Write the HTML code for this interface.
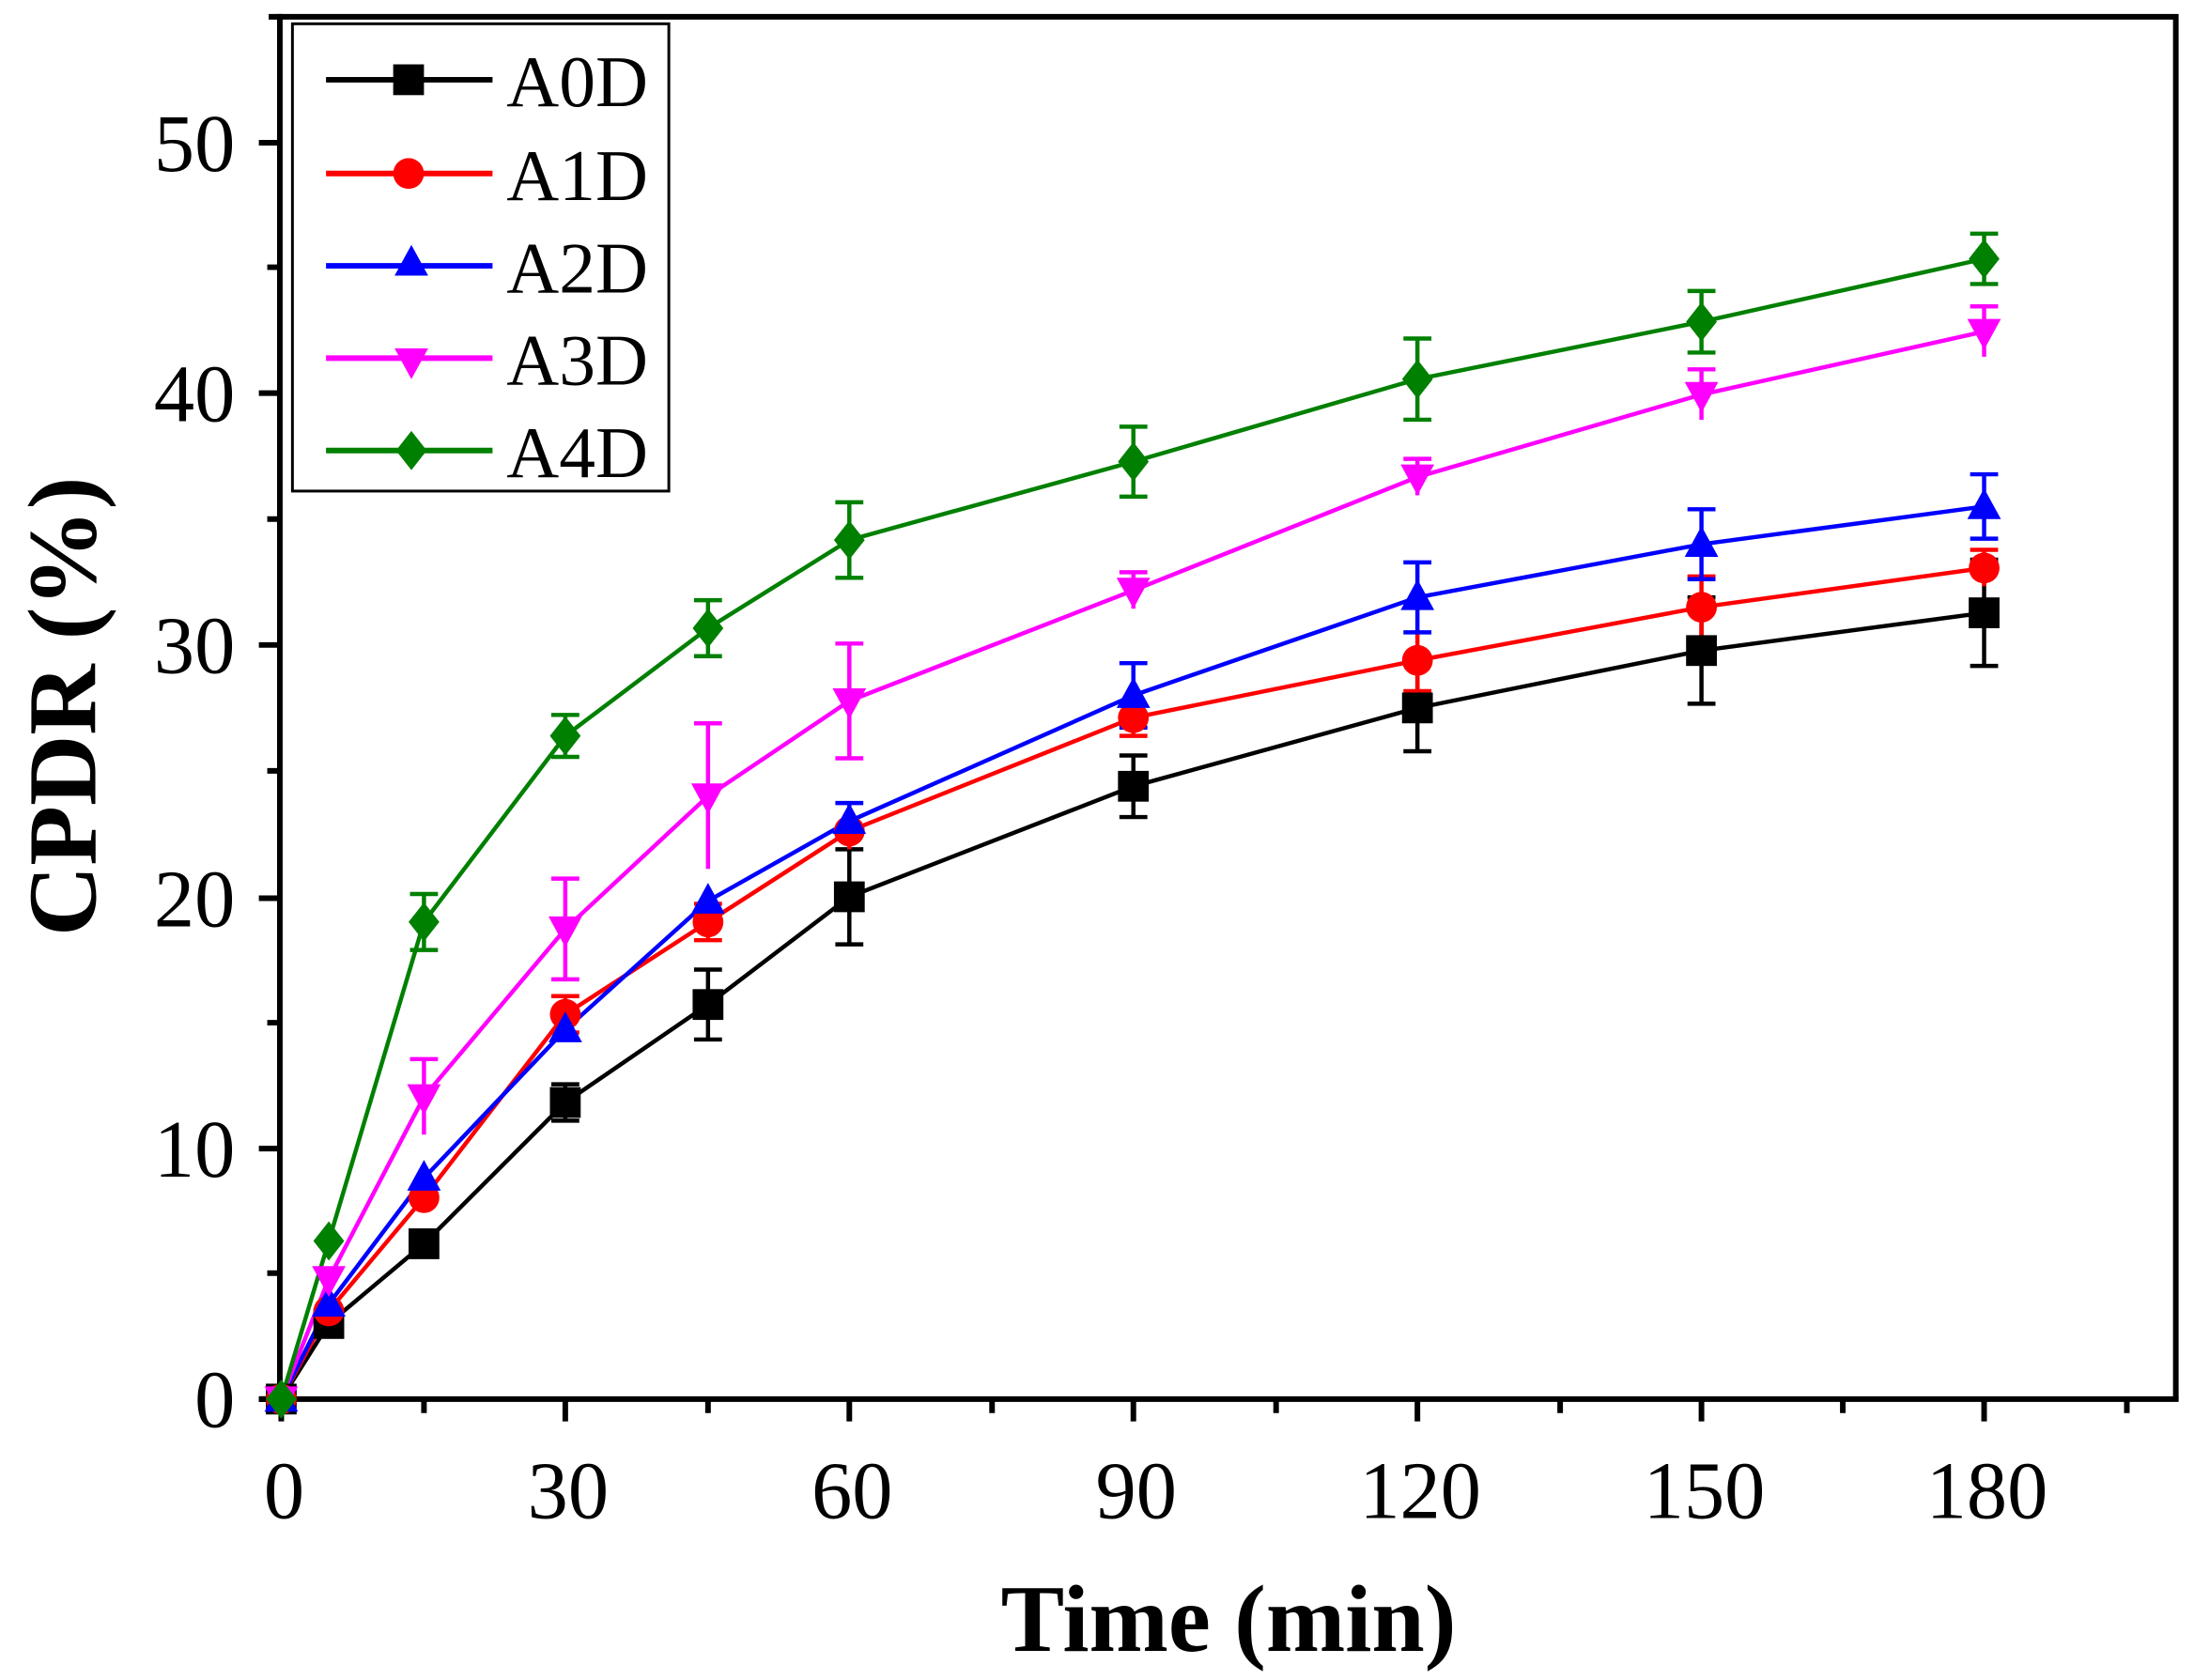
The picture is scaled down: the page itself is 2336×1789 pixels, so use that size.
<!DOCTYPE html>
<html><head><style>html,body{margin:0;padding:0;background:#fff}svg{display:block}</style></head>
<body>
<svg width="2336" height="1789" viewBox="0 0 1568 1200.8" preserveAspectRatio="none" xmlns="http://www.w3.org/2000/svg" font-family="Liberation Serif, serif">
<defs>
<rect id="sq" x="-11" y="-11" width="22" height="22"/>
<circle id="ci" r="11"/>
<polygon id="tu" points="0,-13 12,9 -12,9"/>
<polygon id="td" points="0,13 12,-9 -12,-9"/>
<polygon id="di" points="0,-14 11,0 0,14 -11,0"/>
</defs>
<rect width="1568" height="1201" fill="#fff"/>
<!-- frame -->
<g stroke="#000" stroke-width="4" fill="none">
<path d="M192,12 H1555 V1000"/>
<path d="M200,10 V1002 M185,1000 H1557"/>
<!-- y major ticks -->
<path d="M185,1000H200M185,821H200M185,642H200M185,461H200M185,281H200M185,102H200"/>
<path d="M191,910H200M191,731H200M191,551H200M191,371H200M191,191H200"/>
<!-- x ticks -->
<path d="M201,1000V1016M404,1000V1016M607,1000V1016M810,1000V1016M1013,1000V1016M1216,1000V1016M1418,1000V1016"/>
<path d="M303,1000V1010M506,1000V1010M709,1000V1010M912,1000V1010M1115,1000V1010M1317,1000V1010M1520,1000V1010"/>
</g>
<g font-size="58" text-anchor="end">
<text x="168" y="1020">0</text><text x="168" y="841">10</text><text x="168" y="662">20</text>
<text x="168" y="481">30</text><text x="168" y="301">40</text><text x="168" y="122">50</text>
</g>
<g font-size="58" text-anchor="middle">
<text x="203" y="1085">0</text><text x="406" y="1085">30</text><text x="609" y="1085">60</text>
<text x="812" y="1085">90</text><text x="1015" y="1085">120</text><text x="1218" y="1085">150</text><text x="1420" y="1085">180</text>
</g>
<text x="878" y="1180" font-size="68" font-weight="bold" text-anchor="middle">Time (min)</text>
<text transform="translate(68,505) rotate(-90)" font-size="70" font-weight="bold" text-anchor="middle">CPDR (%)</text>

<!-- series -->
<g fill="none" stroke-width="3">
<path stroke="#000" d="M201,1000L235,946L303,889L404,788L506,718L607,641L810,562L1013,506L1216,465L1418,438"/>
<path stroke="#000" d="M404,775V801M394,775H414M394,801H414M506,693V743M496,693H516M496,743H516M607,607V675M597,607H617M597,675H617M810,540V584M800,540H820M800,584H820M1013,475V537M1003,475H1023M1003,537H1023M1216,427V503M1206,427H1226M1206,503H1226M1418,400V476M1408,400H1428M1408,476H1428"/>
<path stroke="#f00" d="M201,1000L235,937L303,856L404,725L506,659L607,594L810,513L1013,472L1216,434L1418,406"/>
<path stroke="#f00" d="M404,712V738M394,712H414M394,738H414M506,646V672M496,646H516M496,672H516M607,581V607M810,500V526M800,526H820M1013,450V494M1003,494H1023M1216,412V456M1206,412H1226M1418,393V419M1408,393H1428"/>
<path stroke="#00f" d="M201,1000L235,932L303,842L404,736L506,644L607,587L810,497L1013,427L1216,389L1418,362"/>
<path stroke="#00f" d="M607,574V600M597,574H617M810,474V520M800,474H820M800,520H820M1013,402V452M1003,402H1023M1003,452H1023M1216,364V414M1206,364H1226M1206,414H1226M1418,339V385M1408,339H1428M1408,385H1428"/>
<path stroke="#f0f" d="M201,1000L235,914L303,784L404,664L506,569L607,501L810,422L1013,341L1216,282L1418,237"/>
<path stroke="#f0f" d="M303,757V811M293,757H313M404,628V700M394,628H414M394,700H414M506,517V621M496,517H516M607,460V542M597,460H617M597,542H617M810,409V435M800,409H820M1013,328V354M1003,328H1023M1216,264V300M1206,264H1226M1418,219V255M1408,219H1428"/>
<path stroke="#008000" d="M201,1000L235,887L303,659L404,526L506,449L607,386L810,330L1013,271L1216,230L1418,185"/>
<path stroke="#008000" d="M303,639V679M293,639H313M293,679H313M404,511V541M394,511H414M394,541H414M506,429V469M496,429H516M496,469H516M607,359V413M597,359H617M597,413H617M810,305V355M800,305H820M800,355H820M1013,242V300M1003,242H1023M1003,300H1023M1216,208V252M1206,208H1226M1206,252H1226M1418,167V203M1408,167H1428M1408,203H1428"/>
</g>
<g fill="#000">
<use href="#sq" x="201" y="1000"/><use href="#sq" x="235" y="946"/><use href="#sq" x="303" y="889"/><use href="#sq" x="404" y="788"/><use href="#sq" x="506" y="718"/><use href="#sq" x="607" y="641"/><use href="#sq" x="810" y="562"/><use href="#sq" x="1013" y="506"/><use href="#sq" x="1216" y="465"/><use href="#sq" x="1418" y="438"/>
</g>
<g fill="#f00">
<use href="#ci" x="201" y="1000"/><use href="#ci" x="235" y="937"/><use href="#ci" x="303" y="856"/><use href="#ci" x="404" y="725"/><use href="#ci" x="506" y="659"/><use href="#ci" x="607" y="594"/><use href="#ci" x="810" y="513"/><use href="#ci" x="1013" y="472"/><use href="#ci" x="1216" y="434"/><use href="#ci" x="1418" y="406"/>
</g>
<g fill="#00f">
<use href="#tu" x="201" y="1000"/><use href="#tu" x="235" y="932"/><use href="#tu" x="303" y="842"/><use href="#tu" x="404" y="736"/><use href="#tu" x="506" y="644"/><use href="#tu" x="607" y="587"/><use href="#tu" x="810" y="497"/><use href="#tu" x="1013" y="427"/><use href="#tu" x="1216" y="389"/><use href="#tu" x="1418" y="362"/>
</g>
<g fill="#f0f">
<use href="#td" x="201" y="1000"/><use href="#td" x="235" y="914"/><use href="#td" x="303" y="784"/><use href="#td" x="404" y="664"/><use href="#td" x="506" y="569"/><use href="#td" x="607" y="501"/><use href="#td" x="810" y="422"/><use href="#td" x="1013" y="341"/><use href="#td" x="1216" y="282"/><use href="#td" x="1418" y="237"/>
</g>
<g fill="#008000">
<use href="#di" x="201" y="1000"/><use href="#di" x="235" y="887"/><use href="#di" x="303" y="659"/><use href="#di" x="404" y="526"/><use href="#di" x="506" y="449"/><use href="#di" x="607" y="386"/><use href="#di" x="810" y="330"/><use href="#di" x="1013" y="271"/><use href="#di" x="1216" y="230"/><use href="#di" x="1418" y="185"/>
</g>

<!-- legend -->
<rect x="209" y="17" width="269" height="334" fill="#fff" stroke="#000" stroke-width="2"/>
<g stroke-width="4">
<line x1="233" y1="57" x2="352" y2="57" stroke="#000"/>
<line x1="233" y1="124" x2="352" y2="124" stroke="#f00"/>
<line x1="233" y1="190" x2="352" y2="190" stroke="#00f"/>
<line x1="233" y1="256" x2="352" y2="256" stroke="#f0f"/>
<line x1="233" y1="322" x2="352" y2="322" stroke="#008000"/>
</g>
<use href="#sq" x="292" y="57" fill="#000"/>
<use href="#ci" x="292" y="124" fill="#f00"/>
<use href="#tu" x="294" y="188" fill="#00f"/>
<use href="#td" x="294" y="258" fill="#f0f"/>
<use href="#di" x="294" y="322" fill="#008000"/>
<g font-size="52">
<text x="362" y="76">A0D</text><text x="362" y="143">A1D</text><text x="362" y="209">A2D</text><text x="362" y="275">A3D</text><text x="362" y="341">A4D</text>
</g>
</svg>
</body></html>
